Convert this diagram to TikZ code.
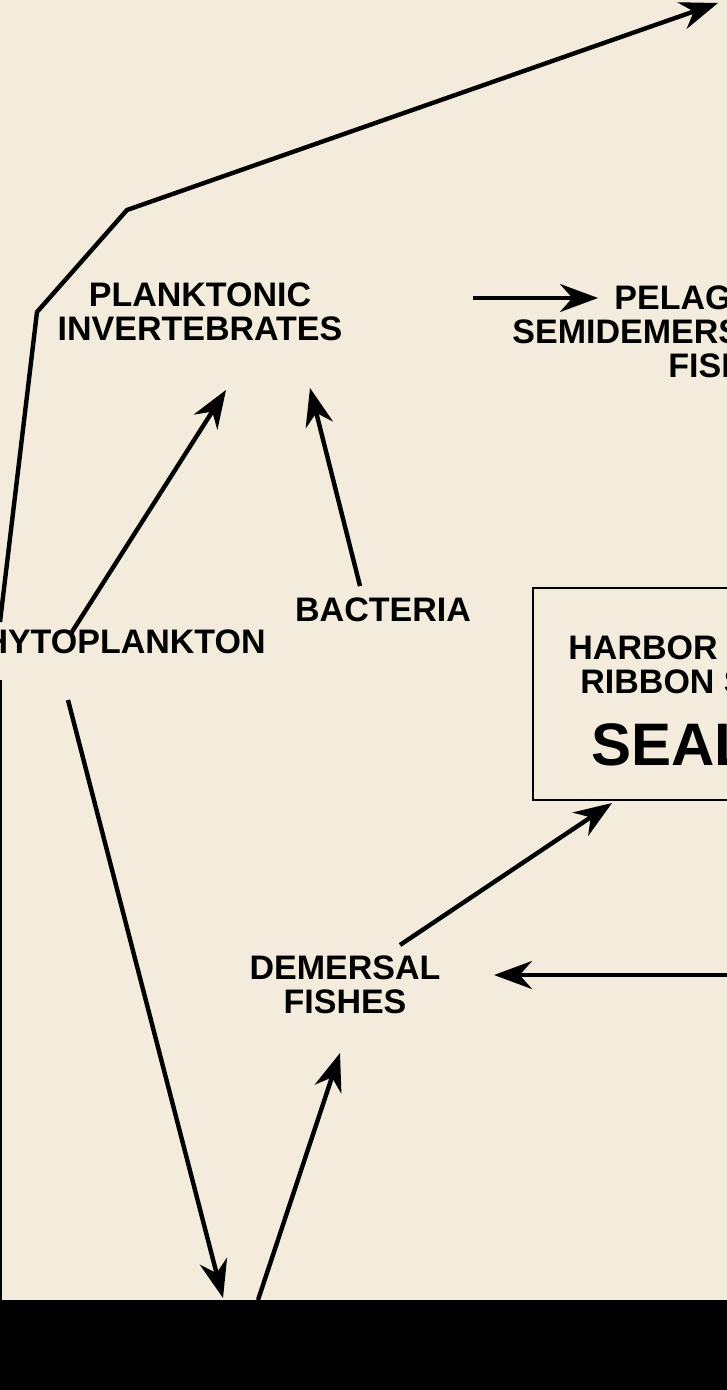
\documentclass[tikz,border=0pt]{standalone}
\usepackage{fontspec}
\setmainfont{Liberation Sans}
\usetikzlibrary{arrows.meta,positioning}
\definecolor{paper}{HTML}{F3EBDB}
\tikzset{
  lbl/.style={font=\bfseries\fontsize{17}{19}\selectfont, align=center, inner sep=1pt},
  flow/.style={line width=2.2pt, -{Stealth[length=19pt,width=14pt]}},
}
\begin{document}
\begin{tikzpicture}[x=0.5pt,y=-0.5pt]
  \useasboundingbox (0,0) rectangle (727,1390);
  \fill[paper] (0,0) rectangle (727,1300);
  \fill[black] (0,1300) rectangle (727,1390);
  \clip (0,0) rectangle (727,1300);
  % labels
  \node[lbl] (plank) at (200,312) {PLANKTONIC\\[-2pt]INVERTEBRATES};
  \node[lbl, anchor=west] (pela) at (612,298) {PELAGIC AND};
  \node[lbl, anchor=west] (semi) at (510,332) {SEMIDEMERSAL};
  \node[lbl, anchor=west] (fish) at (666,366) {FISHES};
  \node[lbl] (bact) at (383,610) {BACTERIA};
  \node[lbl, anchor=east] (phyto) at (268,642) {PHYTOPLANKTON};
  \node[lbl] (dem) at (345,985) {DEMERSAL\\[-2pt]FISHES};
  \draw[line width=1pt] (533,588) rectangle (760,800);
  \node[lbl, anchor=west] (harb) at (566,648) {HARBOR SEALS};
  \node[lbl, anchor=west] (ribb) at (578,682) {RIBBON SEALS};
  \node[font=\bfseries\fontsize{30}{32}\selectfont, anchor=west] (se) at (584,745) {SEALS};
  \coordinate (top) at (718,3);
  \coordinate (right) at (760,975);
  % connectors
  \draw[flow] (473,298) -- (598,298);
  \draw[flow] (70,635) -- (226,390);
  \draw[flow] (360,586) -- (310,388);
  \draw[flow] (68,700) -- (223,1298);
  \draw[flow] (258,1300) -- (340,1053);
  \draw[flow] (400,945) -- (612,803);
  \draw[flow] (right) -- (494,975);
  \draw[flow] (0,622) -- (37,312) -- (127,210) -- (top);
  \draw[line width=2.2pt] (0,680) -- (0,1300);
\end{tikzpicture}
\end{document}
